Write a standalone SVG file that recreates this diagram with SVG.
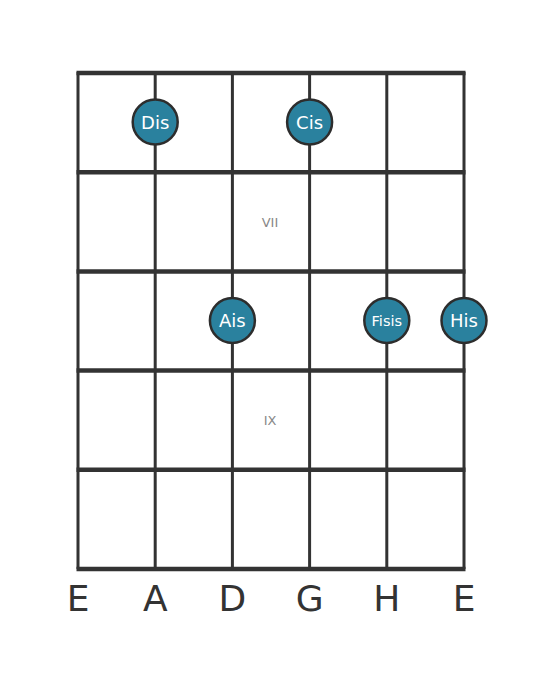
<svg xmlns="http://www.w3.org/2000/svg" width="559" height="682" viewBox="0 0 559 682">
<style>
.s{stroke:#333;stroke-width:3;fill:none}
.f{stroke:#333;stroke-width:4.5;fill:none}
.n circle{fill:#2a819e;stroke:#2d2d2d;stroke-width:2.5}
.n text{fill:#fff;font-family:"DejaVu Sans",sans-serif;font-size:18px;text-anchor:middle;dominant-baseline:central}
.fr{fill:#888;font-family:"DejaVu Sans",sans-serif;font-size:13px;text-anchor:middle;dominant-baseline:central}
.str{fill:#333;font-family:"DejaVu Sans",sans-serif;font-size:36px;text-anchor:middle}
</style>
<rect width="559" height="682" fill="#fff"/>
<g id="connectors">
<line class="s" x1="78" y1="72" x2="78" y2="569"/>
<line class="s" x1="155.2" y1="72" x2="155.2" y2="569"/>
<line class="s" x1="232.4" y1="72" x2="232.4" y2="569"/>
<line class="s" x1="309.6" y1="72" x2="309.6" y2="569"/>
<line class="s" x1="386.8" y1="72" x2="386.8" y2="569"/>
<line class="s" x1="464" y1="72" x2="464" y2="569"/>
<line class="f" x1="76.5" y1="73" x2="465.5" y2="73"/>
<line class="f" x1="76.5" y1="172.2" x2="465.5" y2="172.2"/>
<line class="f" x1="76.5" y1="271.4" x2="465.5" y2="271.4"/>
<line class="f" x1="76.5" y1="370.6" x2="465.5" y2="370.6"/>
<line class="f" x1="76.5" y1="469.8" x2="465.5" y2="469.8"/>
<line class="f" x1="76.5" y1="569" x2="465.5" y2="569"/>
</g>
<text class="fr" x="270" y="222">VII</text>
<text class="fr" x="270" y="420">IX</text>
<g id="dis" class="n"><circle cx="155.2" cy="122" r="22.5"/><text x="155.2" y="122">Dis</text></g>
<g id="cis" class="n"><circle cx="309.6" cy="122" r="22.5"/><text x="309.6" y="122">Cis</text></g>
<g id="ais" class="n"><circle cx="232.4" cy="320.5" r="22.5"/><text x="232.4" y="320.5">Ais</text></g>
<g id="fisis" class="n"><circle cx="386.8" cy="320.5" r="22.5"/><text x="386.8" y="320.5" style="font-size:14.5px">Fisis</text></g>
<g id="his" class="n"><circle cx="464" cy="320.5" r="22.5"/><text x="464" y="320.5">His</text></g>
<g id="strings">
<text class="str" x="78" y="611">E</text>
<text class="str" x="155.2" y="611">A</text>
<text class="str" x="232.4" y="611">D</text>
<text class="str" x="309.6" y="611">G</text>
<text class="str" x="386.8" y="611">H</text>
<text class="str" x="464" y="611">E</text>
</g>
</svg>
